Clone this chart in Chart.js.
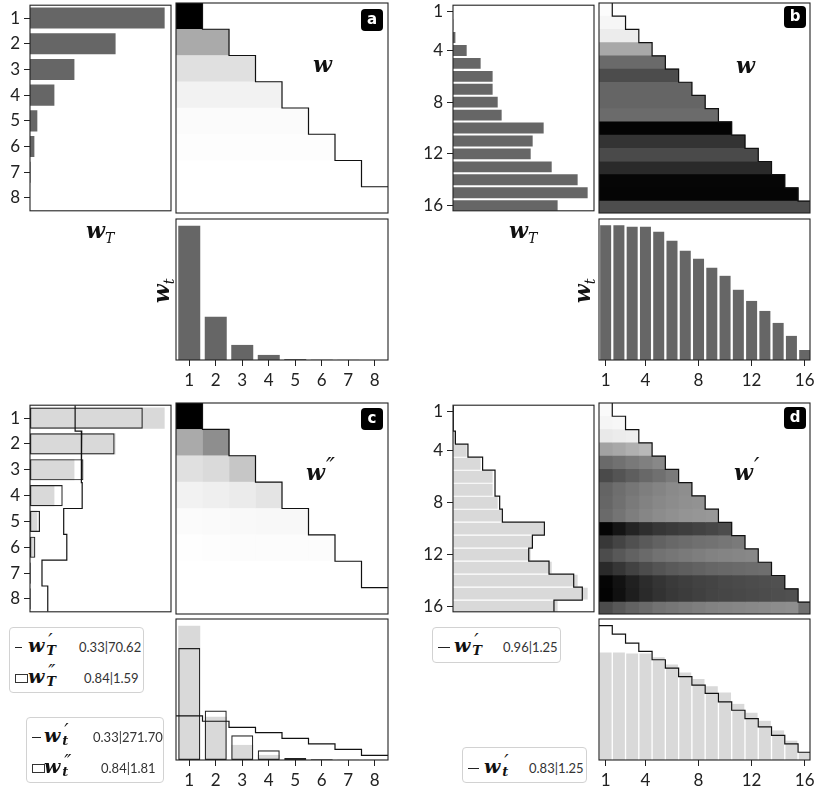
<!DOCTYPE html>
<html>
<head>
<meta charset="utf-8">
<script src="https://cdn.jsdelivr.net/npm/chart.js@4.4.1/dist/chart.umd.min.js"></script>
<style>
  body { margin: 0; background: #fff; width: 820px; height: 793px; position: relative; overflow: hidden; }
  canvas { position: absolute; }
  .lbl { position: absolute; z-index: 3; font-family: "DejaVu Serif", serif; font-style: italic; font-weight: bold;
         font-size: 22px; line-height: 1; color: #111; white-space: nowrap; }
  .lbl sub { font-size: 14px; font-weight: normal; }
  .hp { position: relative; top: -5px; font-size: 24px; font-weight: normal; margin-left: 1px; }
  .badge { position: absolute; z-index: 3; width: 22px; height: 22px; border-radius: 4px; background: #000; color: #fff;
           font: bold 15px "DejaVu Sans", sans-serif; text-align: center; line-height: 21px; }
  .leg { position: absolute; z-index: 3; border: 1px solid #d2d2d2; border-radius: 4px; background: #fff; box-sizing: border-box; }
  .leg > span { position: absolute; white-space: nowrap; }
  .dash { height: 0; border-top: 1.4px solid #222; }
  .box { width: 11px; height: 7px; border: 1px solid #333; }
  .lm { font-family: "DejaVu Serif", serif; font-style: italic; font-weight: bold; font-size: 19px; line-height: 1; color: #111; }
  .ss { position: relative; display: inline-block; width: 16px; height: 19px; vertical-align: top; }
  .ss .p { position: absolute; left: 4px; top: -5px; font-size: 19px; font-weight: normal; }
  .ss .s { position: absolute; left: 2px; top: 8px; font-size: 13px; }
  .num { font: 13px Lato, sans-serif; color: #333; line-height: 14px; }
</style>
</head>
<body>

<div class="badge" style="left:361px;top:9px">a</div>
<div class="badge" style="left:784px;top:6px">b</div>
<div class="badge" style="left:361px;top:408px">c</div>
<div class="badge" style="left:784px;top:407px">d</div>

<div class="lbl" style="left:313px;top:53px">w</div>
<div class="lbl" style="left:736px;top:54px">w</div>
<div class="lbl" style="left:306px;top:460px">w<span class="hp">″</span></div>
<div class="lbl" style="left:734px;top:460px">w<span class="hp">′</span></div>

<div class="lbl" style="left:86px;top:219px">w<sub>T</sub></div>
<div class="lbl" style="left:509px;top:219px">w<sub>T</sub></div>
<div class="lbl" style="left:163px;top:291px;transform:translate(-50%,-50%) rotate(-90deg)">w<sub>t</sub></div>
<div class="lbl" style="left:584px;top:291px;transform:translate(-50%,-50%) rotate(-90deg)">w<sub>t</sub></div>

<div class="leg" style="left:9px;top:627px;width:135px;height:66px">
  <span class="dash" style="left:5px;top:19px;width:7px"></span>
  <span class="lm" style="left:18px;top:8px">w<span class="ss"><span class="p">′</span><span class="s">T</span></span></span>
  <span class="num" style="left:69px;top:12px">0.33|70.62</span>
  <span class="box" style="left:5px;top:46px"></span>
  <span class="lm" style="left:18px;top:39px">w<span class="ss"><span class="p">″</span><span class="s">T</span></span></span>
  <span class="num" style="left:74px;top:43px">0.84|1.59</span>
</div>
<div class="leg" style="left:26px;top:717px;width:138px;height:66px">
  <span class="dash" style="left:5px;top:19px;width:9px"></span>
  <span class="lm" style="left:17px;top:8px">w<span class="ss"><span class="p">′</span><span class="s">t</span></span></span>
  <span class="num" style="left:66px;top:12px">0.33|271.70</span>
  <span class="box" style="left:5px;top:46px"></span>
  <span class="lm" style="left:17px;top:39px">w<span class="ss"><span class="p">″</span><span class="s">t</span></span></span>
  <span class="num" style="left:74px;top:43px">0.84|1.81</span>
</div>
<div class="leg" style="left:432px;top:627px;width:129px;height:36px">
  <span class="dash" style="left:5px;top:19px;width:12px"></span>
  <span class="lm" style="left:21px;top:8px">w<span class="ss"><span class="p">′</span><span class="s">T</span></span></span>
  <span class="num" style="left:70px;top:12px">0.96|1.25</span>
</div>
<div class="leg" style="left:462px;top:747px;width:125px;height:36px">
  <span class="dash" style="left:5px;top:20px;width:11px"></span>
  <span class="lm" style="left:21px;top:9px">w<span class="ss"><span class="p">′</span><span class="s">t</span></span></span>
  <span class="num" style="left:66px;top:13px">0.83|1.25</span>
</div>

<script>
// ---- data (fractions of each axis' full range) ----
const ranks8 = [1, 2, 3, 4, 5, 6, 7, 8];
const ranks16 = [1, 2, 3, 4, 5, 6, 7, 8, 9, 10, 11, 12, 13, 14, 15, 16];
const ticks8 = [1, 2, 3, 4, 5, 6, 7, 8];
const ticks16 = [1, 4, 8, 12, 16];

// panel a / c (8 ranks)
const wTa = [0.955, 0.607, 0.315, 0.173, 0.052, 0.031, 0.004, 0.0];
const wta = [0.953, 0.306, 0.107, 0.036, 0.007, 0.002, 0.001, 0.0];
const wRowsA = [0, 170, 224, 242, 251, 253, 255, 255];

const wT2c = [0.80, 0.60, 0.379, 0.232, 0.071, 0.038, 0.005, 0.005];
const wT1c = [0.32, 0.367, 0.363, 0.37, 0.239, 0.261, 0.085, 0.126];
const wt2c = [0.794, 0.351, 0.175, 0.069, 0.014, 0.005, 0.002, 0.002];
const wt1c = [0.313, 0.275, 0.232, 0.194, 0.154, 0.114, 0.076, 0.033];
const wCellsC = [
  [0],
  [170, 142],
  [224, 218, 198],
  [242, 239, 235, 228],
  [251, 250, 249, 248, 248],
  [254, 253, 252, 252, 252, 252],
  [255, 255, 255, 255, 255, 255, 255],
  [255, 255, 255, 255, 255, 255, 255, 255]
];

// panel b / d (16 ranks)
const wTb = [0.0, 0.002, 0.017, 0.097, 0.196, 0.281, 0.281, 0.317, 0.345, 0.643, 0.565, 0.551, 0.700, 0.884, 0.955, 0.742];
const wtb = [0.955, 0.955, 0.945, 0.945, 0.91, 0.846, 0.775, 0.718, 0.654, 0.597, 0.498, 0.419, 0.348, 0.263, 0.171, 0.071];
const wRowsB = [252, 246, 236, 168, 106, 76, 101, 101, 107, 3, 51, 74, 42, 6, 5, 77];

const wT1d = [0.002, 0.002, 0.017, 0.106, 0.21, 0.298, 0.298, 0.331, 0.35, 0.648, 0.563, 0.537, 0.681, 0.856, 0.917, 0.716];
const wtd = [0.763, 0.763, 0.755, 0.755, 0.728, 0.678, 0.62, 0.574, 0.523, 0.478, 0.398, 0.335, 0.278, 0.21, 0.137, 0.057];
const wt1d = [0.953, 0.893, 0.829, 0.770, 0.711, 0.652, 0.592, 0.531, 0.472, 0.412, 0.353, 0.294, 0.235, 0.175, 0.114, 0.055];
const wCellsD = [
  [250],
  [245, 247],
  [233, 236, 238],
  [162, 168, 176, 184],
  [106, 113, 121, 128, 136],
  [74, 84, 94, 104, 112, 122],
  [100, 110, 118, 126, 132, 138, 142],
  [102, 112, 122, 130, 136, 140, 144, 146],
  [106, 116, 126, 134, 140, 144, 148, 150, 152],
  [5, 20, 35, 46, 54, 58, 62, 66, 70, 76],
  [56, 68, 80, 90, 98, 104, 108, 112, 114, 118, 122],
  [76, 88, 98, 106, 114, 118, 122, 126, 130, 132, 134, 136],
  [42, 54, 66, 76, 84, 90, 94, 98, 102, 104, 106, 108, 110],
  [5, 18, 32, 44, 52, 58, 62, 66, 68, 72, 74, 76, 78, 80],
  [3, 16, 30, 42, 50, 56, 60, 64, 68, 70, 72, 74, 76, 78, 80],
  [76, 88, 98, 106, 114, 118, 122, 126, 130, 132, 134, 136, 138, 140, 142, 112]
];

const DARK = "#666666";
const LIGHT = "#d9d9d9";

Chart.defaults.font.family = "Lato, sans-serif";
Chart.defaults.color = "#222";

const gray = (v) => `rgb(${v},${v},${v})`;

// box round every plot area
const framePlugin = {
  id: "frame",
  afterDraw(chart) {
    const { ctx, chartArea: a } = chart;
    ctx.save();
    ctx.strokeStyle = "#222";
    ctx.lineWidth = 1.1;
    ctx.strokeRect(a.left, a.top, a.right - a.left, a.bottom - a.top);
    ctx.restore();
  },
};

function hBars(ranks, vals, color, pct, order) {
  return {
    type: "bar", indexAxis: "y", order,
    data: ranks.map((r, i) => ({ x: vals[i], y: r })),
    backgroundColor: color, barPercentage: pct, categoryPercentage: 1, grouped: false,
  };
}

function vBars(ranks, vals, color, pct, order) {
  return {
    type: "bar", indexAxis: "x", order,
    data: ranks.map((r, i) => ({ x: r, y: vals[i] })),
    backgroundColor: color, barPercentage: pct, categoryPercentage: 1, grouped: false,
  };
}

function outlined(ds) {
  return Object.assign(ds, { backgroundColor: "rgba(0,0,0,0)", borderColor: "#222", borderWidth: 1.2, borderSkipped: false });
}

function stepLine(points) {
  return { type: "line", order: 0, data: points, borderColor: "#111", borderWidth: 1.2, pointRadius: 0, fill: false, tension: 0 };
}

// step outline along the ranks: vertical segments for horizontal bars, horizontal for vertical bars
function stepsH(ranks, vals) {
  return ranks.flatMap((r, i) => [{ x: vals[i], y: r - 0.5 }, { x: vals[i], y: r + 0.5 }]);
}
function stepsV(ranks, vals) {
  return ranks.flatMap((r, i) => [{ x: r - 0.5, y: vals[i] }, { x: r + 0.5, y: vals[i] }]);
}

// triangular heatmap: row i has cells 1..i
function heatRows(ranks, rowGray) {
  return [{
    type: "bar", indexAxis: "y", order: 1, grouped: false, barPercentage: 1, categoryPercentage: 1,
    data: ranks.map((r) => ({ x: [0, r], y: r - 0.5 })),
    backgroundColor: rowGray.map(gray),
  }];
}
function heatCells(ranks, cells) {
  return ranks.map((c) => {
    const rows = ranks.filter((r) => r >= c);
    return {
      type: "bar", indexAxis: "y", order: 1, grouped: false, barPercentage: 1, categoryPercentage: 1,
      data: rows.map((r) => ({ x: [c - 1, c], y: r - 0.5 })),
      backgroundColor: rows.map((r) => gray(cells[r - 1][c - 1])),
    };
  });
}
function staircase(ranks) {
  const n = ranks.length;
  const pts = [];
  ranks.slice(0, n - 1).forEach((k) => pts.push({ x: k, y: k - 1 }, { x: k, y: k }));
  pts.push({ x: n, y: n - 1 });
  return stepLine(pts);
}

function makeChart(rect, cfg) {
  const [px, py, pw, ph] = rect;
  const m = { l: cfg.yTicks ? cfg.axisW : 12, t: 12, r: 12, b: cfg.xTicks ? 40 : 12 };
  const W = pw + m.l + m.r;
  const H = ph + m.t + m.b;
  const cv = document.createElement("canvas");
  cv.width = W;
  cv.height = H;
  cv.style.left = px - m.l + "px";
  cv.style.top = py - m.t + "px";
  cv.style.width = W + "px";
  cv.style.height = H + "px";
  document.body.appendChild(cv);

  const axis = (range, ticks, isX) => {
    const s = {
      type: "linear", min: range[0], max: range[1], reverse: !!range[2], offset: false,
      display: !!ticks,
      grid: { offset: false, drawOnChartArea: false, drawTicks: true, tickLength: 6, color: "#222", lineWidth: 1 },
      border: { display: false },
      ticks: { padding: 4, color: "#222", font: { size: 17 }, maxRotation: 0, autoSkip: false },
      afterBuildTicks: (sc) => { sc.ticks = (ticks || []).map((v) => ({ value: v })); },
    };
    if (ticks) s.afterFit = (sc) => { if (isX) sc.height = m.b; else sc.width = m.l; };
    return s;
  };

  return new Chart(cv, {
    type: "bar",
    data: { datasets: cfg.datasets },
    options: {
      responsive: false, animation: false, events: [],
      indexAxis: cfg.indexAxis,
      layout: { padding: { left: cfg.yTicks ? 0 : m.l, top: m.t, right: m.r, bottom: cfg.xTicks ? 0 : m.b } },
      plugins: { legend: { display: false }, tooltip: { enabled: false } },
      scales: { x: axis(cfg.x, cfg.xTicks, true), y: axis(cfg.y, cfg.yTicks, false) },
    },
    plugins: [framePlugin],
  });
}

// ---- panel a ----
makeChart([30, 3, 141, 210], {
  indexAxis: "y", x: [0, 1], y: [0.5, 8.5, true], yTicks: ticks8, axisW: 30,
  datasets: [hBars(ranks8, wTa, DARK, 0.82, 1)],
});
makeChart([176, 3, 212, 210], {
  indexAxis: "y", x: [0, 8], y: [0, 8, true],
  datasets: [staircase(ranks8), ...heatRows(ranks8, wRowsA)],
});
makeChart([176, 219, 212, 141], {
  indexAxis: "x", x: [0.5, 8.5], y: [0, 1], xTicks: ticks8,
  datasets: [vBars(ranks8, wta, DARK, 0.83, 1)],
});

// ---- panel b ----
makeChart([453, 3, 141, 210], {
  indexAxis: "y", x: [0, 1], y: [0.5, 16.4, true], yTicks: ticks16, axisW: 40,
  datasets: [hBars(ranks16, wTb, DARK, 0.84, 1)],
});
makeChart([599, 3, 211, 210], {
  indexAxis: "y", x: [0, 15.9], y: [0, 15.9, true],
  datasets: [staircase(ranks16), ...heatRows(ranks16, wRowsB)],
});
makeChart([599, 219, 211, 141], {
  indexAxis: "x", x: [0.5, 16.4], y: [0, 1], xTicks: ticks16,
  datasets: [vBars(ranks16, wtb, DARK, 0.83, 1)],
});

// ---- panel c ----
makeChart([30, 403, 141, 211], {
  indexAxis: "y", x: [0, 1], y: [0.5, 8.5, true], yTicks: ticks8, axisW: 30,
  datasets: [
    stepLine(stepsH(ranks8, wT1c)),
    outlined(hBars(ranks8, wT2c, null, 0.82, 1)),
    hBars(ranks8, wTa, LIGHT, 0.82, 2),
  ],
});
makeChart([176, 403, 212, 211], {
  indexAxis: "y", x: [0, 8], y: [0, 8, true],
  datasets: [staircase(ranks8), ...heatCells(ranks8, wCellsC)],
});
makeChart([176, 619, 212, 141], {
  indexAxis: "x", x: [0.5, 8.5], y: [0, 1], xTicks: ticks8,
  datasets: [
    stepLine(stepsV(ranks8, wt1c)),
    outlined(vBars(ranks8, wt2c, null, 0.83, 1)),
    vBars(ranks8, wta, LIGHT, 0.83, 2),
  ],
});

// ---- panel d ----
makeChart([453, 403, 141, 211], {
  indexAxis: "y", x: [0, 1], y: [0.5, 16.4, true], yTicks: ticks16, axisW: 40,
  datasets: [stepLine(stepsH(ranks16, wT1d)), hBars(ranks16, wTb, LIGHT, 0.92, 2)],
});
makeChart([599, 403, 211, 211], {
  indexAxis: "y", x: [0, 15.9], y: [0, 15.9, true],
  datasets: [staircase(ranks16), ...heatCells(ranks16, wCellsD)],
});
makeChart([599, 619, 211, 141], {
  indexAxis: "x", x: [0.5, 16.4], y: [0, 1], xTicks: ticks16,
  datasets: [stepLine(stepsV(ranks16, wt1d)), vBars(ranks16, wtd, LIGHT, 0.9, 2)],
});
</script>
</body>
</html>
